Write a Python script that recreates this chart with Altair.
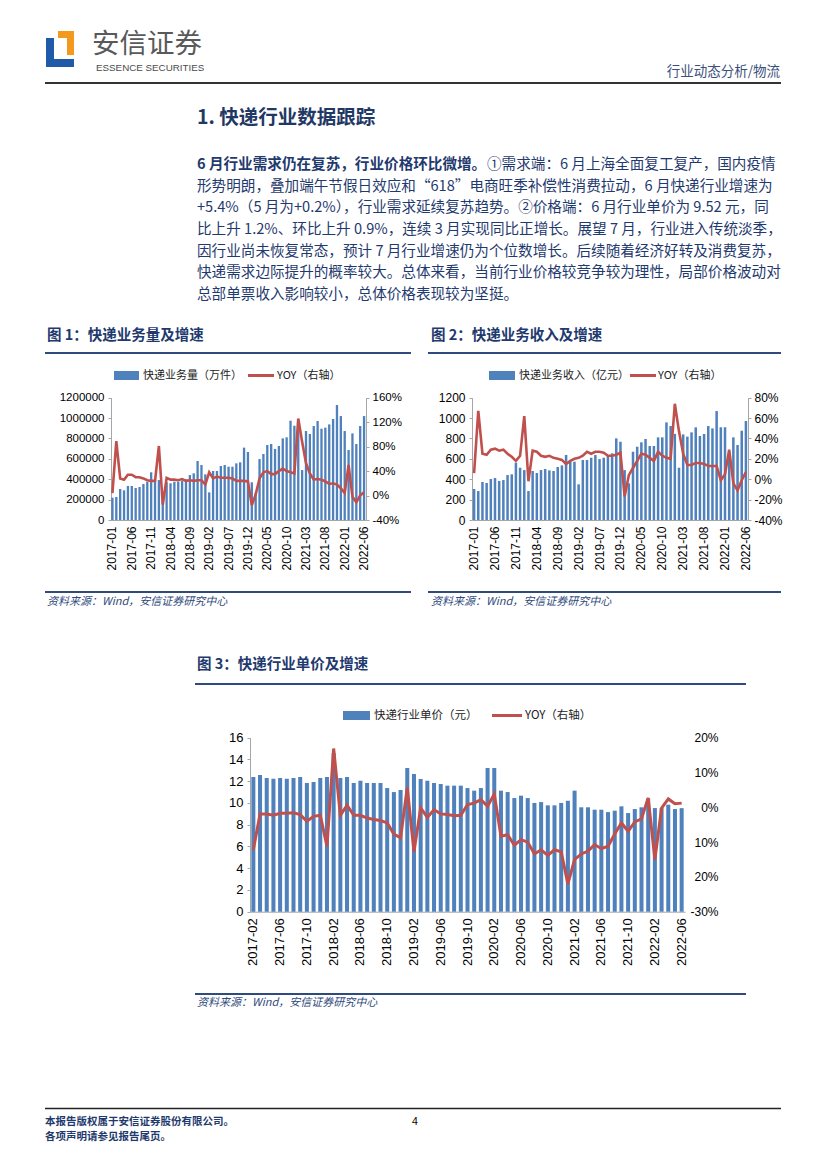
import altair as alt
import pandas as pd

W, H = 811, 1154


def X(v):
    return v - 8


def Y(v):
    return v - 8


BLUE = "#4f81bd"
RED = "#c0504d"
NAVY = "#1f3a6e"
CJK = "Noto Sans CJK SC"
LAT = "Liberation Sans"

# ---------------- data ----------------
months_1 = [f"{y}-{m:02d}" for y in range(2017, 2023) for m in range(1, 13)][:66]
months_3 = months_1[1:]

volume = [219000, 226000, 304000, 291000, 334000, 334000, 314000, 324000, 353000, 376000, 468000, 392000,
          392000, 192000, 370000, 360000, 376000, 376000, 386000, 399000, 441000, 458000, 579000, 540000,
          448000, 271000, 481000, 481000, 530000, 540000, 523000, 523000, 556000, 566000, 710000, 667000,
          370000, 265000, 598000, 647000, 736000, 746000, 697000, 726000, 801000, 811000, 974000, 925000,
          880000, 490000, 873000, 844000, 922000, 971000, 896000, 906000, 938000, 991000, 1128000, 1020000,
          873000, 687000, 850000, 746000, 922000, 1020000]
volume_yoy = [4, 89, 28, 26, 34, 34, 30, 30, 28, 25, 24, 24,
              81, -15, 29, 26, 26, 25, 27, 24, 25, 24, 25, 25,
              18, 38, 28, 31, 29, 29, 29, 28, 24, 24, 24, 23,
              -16, 2, 28, 38, 40, 35, 35, 40, 44, 40, 38, 36,
              126, 88, 53, 36, 26, 27, 26, 23, 19, 20, 18, 12,
              4, 50, -2, -11, 0.2, 5.4]

revenue = [304, 284, 373, 363, 402, 412, 383, 392, 441, 448, 562, 513,
           490, 284, 481, 461, 490, 500, 487, 481, 520, 536, 638, 579,
           572, 350, 589, 589, 611, 638, 598, 611, 638, 654, 801, 768,
           490, 360, 670, 719, 762, 795, 726, 726, 811, 811, 958, 922,
           845, 513, 840, 818, 860, 909, 824, 844, 922, 899, 1069, 910,
           910, 660, 811, 736, 876, 971]
revenue_yoy = [6, 67, 25, 24, 29, 30, 28, 29, 25, 22, 18, 23,
               62, -2, 28, 27, 23, 22, 23, 21, 20, 19, 15, 18,
               20, 21, 23, 27, 25, 27, 27, 26, 23, 23, 24, 26,
               -17, 4, 11, 18, 25, 24, 21, 18, 27, 23, 21, 20,
               74, 47, 25, 14, 14, 16, 16, 15, 13, 13, 13, -1,
               5, 29, -4, -11, -1, 7]

price = [12.38, 12.57, 12.29, 12.23, 12.29, 12.23, 12.29, 12.38, 11.83, 11.92, 12.29, 12.38,
         14.6, 12.29, 12.38, 11.83, 12.05, 11.83, 11.83, 11.83, 11.37, 11.0, 11.19, 13.21,
         12.66, 12.2, 12.05, 11.83, 11.74, 11.59, 11.59, 11.59, 11.37, 11.13, 11.37, 13.21,
         13.21, 11.13, 11.0, 10.45, 10.67, 10.45, 10.0, 10.08, 9.78, 9.78, 10.0, 10.2,
         11.13, 9.6, 9.6, 9.38, 9.38, 9.16, 9.29, 9.69, 9.07, 9.44, 9.6, 10.4,
         9.53, 9.53, 9.84, 9.44, 9.52]
price_yoy = [-12.2, -1.9, -1.9, -2.3, -1.7, -1.7, -1.6, -2.1, -4.0, -2.6, -2.3, -11.2,
             16.9, -2.3, 0.6, -2.3, -2.3, -3.1, -3.5, -3.8, -4.5, -7.7, -8.8, 5.7,
             -12.8, -0.2, -2.9, -0.7, -1.9, -2.1, -2.4, -2.3, 0.8, 1.2, 2.2, 0.3,
             3.8, -8.3, -7.9, -10.9, -9.3, -10.0, -13.4, -12.2, -13.8, -12.2, -12.8, -22.0,
             -15.0, -13.4, -12.6, -10.7, -11.9, -11.2, -7.7, -4.5, -6.9, -4.2, -3.3, 2.7,
             -15.0, -0.2, 2.4, 1.0, 1.2]

ticks_1 = months_1[::5]
ticks_3 = months_3[::4]

vol_left_ticks = [0, 200000, 400000, 600000, 800000, 1000000, 1200000]
vol_right_ticks = [-40, 0, 40, 80, 120, 160]
rev_left_ticks = [0, 200, 400, 600, 800, 1000, 1200]
rev_right_ticks = [-40, -20, 0, 20, 40, 60, 80]
price_left_ticks = [0, 2, 4, 6, 8, 10, 12, 14, 16]
price_right_ticks = [-30, -20, -10, 0, 10, 20]

paragraph = [
    "形势明朗，叠加端午节假日效应和“618”电商旺季补偿性消费拉动，6 月快递行业增速为",
    "+5.4%（5 月为+0.2%），行业需求延续复苏趋势。②价格端：6 月行业单价为 9.52 元，同",
    "比上升 1.2%、环比上升 0.9%，连续 3 月实现同比正增长。展望 7 月，行业进入传统淡季，",
    "因行业尚未恢复常态，预计 7 月行业增速仍为个位数增长。后续随着经济好转及消费复苏，",
    "快递需求边际提升的概率较大。总体来看，当前行业价格较竞争较为理性，局部价格波动对",
    "总部单票收入影响较小，总体价格表现较为坚挺。",
]
SOURCE = "资料来源：Wind，安信证券研究中心"

one = pd.DataFrame({"k": [0]})
layers = []


def text(s, x, y, size=14, color=NAVY, weight="normal", font=CJK, align="left", style="normal"):
    layers.append(
        alt.Chart(one).mark_text(text=s, fontSize=size, color=color, fontWeight=weight, font=font,
                                 align=align, baseline="middle", fontStyle=style)
        .encode(x=alt.value(X(x)), y=alt.value(Y(y)))
    )


def hline(x0, x1, y, color, width):
    layers.append(
        alt.Chart(one).mark_rule(color=color, strokeWidth=width)
        .encode(x=alt.value(X(x0)), x2=alt.value(X(x1)), y=alt.value(Y(y)))
    )


def rect(x0, y0, x1, y1, color):
    layers.append(
        alt.Chart(one).mark_rect(color=color)
        .encode(x=alt.value(X(x0)), x2=alt.value(X(x1)), y=alt.value(Y(y0)), y2=alt.value(Y(y1)))
    )


def dual(months, bars, yoy, xr, ybot, ytop, ldom, lticks, lfmt, rdom, rticks, rexpr, xticks,
         lax, rax, xlab, ylab, rlab, rpad, ralign, rdomain, line_w):
    df = pd.DataFrame({"month": months, "bar": bars, "yoy": yoy})
    xs_band = alt.Scale(type="band", domain=months, range=[X(xr[0]), X(xr[1])],
                        paddingInner=0.4, paddingOuter=0.2)
    xs_point = alt.Scale(type="point", domain=months, range=[X(xr[0]), X(xr[1])], padding=0.5)
    yr = [Y(ybot), Y(ytop)]
    bar = alt.Chart(df).mark_bar(color=BLUE).encode(
        x=alt.X("month:O", scale=xs_band,
                axis=alt.Axis(orient="bottom", offset=Y(ybot) - H, values=xticks, labelAngle=-90,
                              labelFontSize=xlab, labelFont=LAT, labelColor="#000", labelPadding=6,
                              ticks=False, domainColor="#a6a6a6", title=None, labelOverlap=False,
                              grid=False)),
        y=alt.Y("bar:Q", scale=alt.Scale(domain=ldom, range=yr, nice=False),
                axis=alt.Axis(orient="left", offset=-X(lax), values=lticks, format=lfmt,
                              labelFontSize=ylab, labelFont=LAT, labelColor="#000", labelPadding=4,
                              tickSize=3, tickColor="#a6a6a6", domainColor="#a6a6a6", title=None,
                              grid=False, labelOverlap=False)),
    )
    line = alt.Chart(df).mark_line(color=RED, strokeWidth=line_w).encode(
        x=alt.X("month:O", scale=xs_point, axis=None),
        y=alt.Y("yoy:Q", scale=alt.Scale(domain=rdom, range=yr, nice=False, zero=False),
                axis=alt.Axis(orient="right", offset=X(rax) - W, values=rticks, labelExpr=rexpr,
                              labelFontSize=rlab, labelFont=LAT, labelColor="#000",
                              labelPadding=rpad, labelAlign=ralign, ticks=rdomain, tickSize=3,
                              tickColor="#a6a6a6", domain=rdomain, domainColor="#a6a6a6",
                              title=None, grid=False, labelOverlap=False)),
    )
    layers.append(bar)
    layers.append(line)


# ---------------- header ----------------
rect(46, 38, 74, 67, "#1f5ba8")
rect(54, 38, 74, 59, "#ffffff")
rect(58, 31, 74, 55, "#f39a1e")
rect(58, 38, 67, 55, "#ffffff")
text("安信证券", 92, 45, 27.5, "#595959")
text("ESSENCE SECURITIES", 96, 67.5, 9.8, "#4d4d4d", font=LAT)
text("行业动态分析/物流", 780, 72, 13.5, "#3b4f7a", align="right")
hline(45, 781, 83, "#333333", 2)

# ---------------- heading & paragraph ----------------
text("1. 快递行业数据跟踪", 197, 118, 19.5, "#1f3864", "bold")
text("6 月行业需求仍在复苏，行业价格环比微增。", 197, 165, 14.6, NAVY, "bold")
text("①需求端：6 月上海全面复工复产，国内疫情", 487, 165, 14.6, NAVY)
for i, line_s in enumerate(paragraph):
    text(line_s, 197, 186.8 + i * 21.6, 14.6, NAVY)

# ---------------- figure 1 ----------------
text("图 1：快递业务量及增速", 47, 336, 14.5, NAVY, "bold")
hline(45, 411, 353, "#2f4a7c", 2)
rect(114, 371, 139, 380, BLUE)
text("快递业务量（万件）", 143, 375.5, 11, "#222222")
hline(248, 274, 375.5, RED, 3)
text("YOY（右轴）", 277, 375.5, 11, "#222222")
dual(months_1, volume, volume_yoy, (110.5, 366), 520, 397.7, [0, 1200000], vol_left_ticks, "d",
     [-40, 160], vol_right_ticks, "datum.value + '%'", ticks_1, 111, 366, 12, 11.5, 11.5, 3, "left",
     True, 2.6)
hline(45, 411, 592, "#2f4a7c", 2)
text(SOURCE, 47, 602, 11, "#2f4a7c", style="italic")

# ---------------- figure 2 ----------------
text("图 2：快递业务收入及增速", 431, 336, 14.5, NAVY, "bold")
hline(428, 781, 353, "#2f4a7c", 2)
rect(489, 371, 515, 380, BLUE)
text("快递业务收入（亿元）", 519, 375.5, 11, "#222222")
hline(630, 656, 375.5, RED, 3)
text("YOY（右轴）", 658, 375.5, 11, "#222222")
dual(months_1, revenue, revenue_yoy, (472, 748), 520, 397.7, [0, 1200], rev_left_ticks, "d",
     [-40, 80], rev_right_ticks, "datum.value + '%'", ticks_1, 472, 748, 12, 12, 12, 3, "left",
     True, 2.6)
hline(428, 781, 592, "#2f4a7c", 2)
text(SOURCE, 431, 602, 11, "#2f4a7c", style="italic")

# ---------------- figure 3 ----------------
text("图 3：快递行业单价及增速", 197, 665, 14.5, NAVY, "bold")
hline(195, 746, 684, "#2f4a7c", 2)
rect(343, 711, 370, 720, BLUE)
text("快递行业单价（元）", 374, 715.5, 11.5, "#222222")
hline(492, 522, 715.5, RED, 3)
text("YOY（右轴）", 525, 715.5, 11.5, "#222222")
dual(months_3, price, price_yoy, (250, 685), 911.7, 737.7, [0, 16], price_left_ticks, "d",
     [-30, 20], price_right_ticks,
     "datum.value == -30 ? '-30%' : abs(datum.value) + '%'", ticks_3, 250, 685, 13, 13, 12, 33,
     "right", False, 3)
hline(195, 746, 994, "#2f4a7c", 2)
text(SOURCE, 197, 1003, 11, "#2f4a7c", style="italic")

# ---------------- footer ----------------
hline(45, 781, 1108.5, "#222222", 1.5)
text("本报告版权属于安信证券股份有限公司。", 45, 1122, 10.5, NAVY, "bold")
text("各项声明请参见报告尾页。", 45, 1137, 10.5, NAVY, "bold")
text("4", 412, 1122, 10.5, "#000000", font=LAT)

chart = (
    alt.layer(*layers)
    .resolve_scale(x="independent", y="independent")
    .resolve_axis(x="independent", y="independent")
    .properties(width=W, height=H, autosize=alt.AutoSizeParams(type="none"), padding=0)
    .configure_view(stroke=None)
)

chart.save("out.html", embed_options={"renderer": "svg", "actions": False})
